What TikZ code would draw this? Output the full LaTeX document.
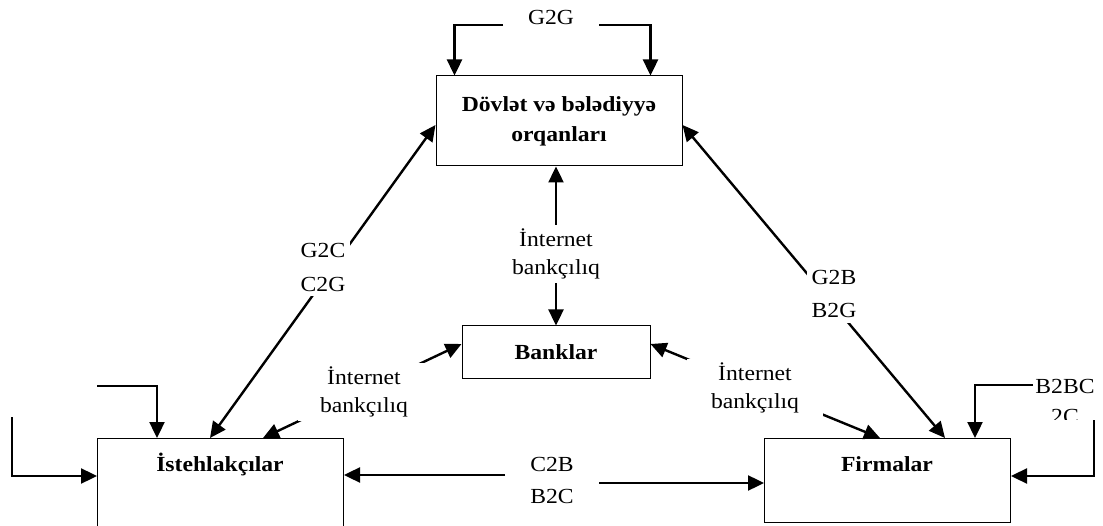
\documentclass[tikz,border=0pt]{standalone}
\usepackage{fontspec}
\setmainfont[FakeStretch=1.1]{Liberation Serif}
\usetikzlibrary{arrows.meta,calc}
\begin{document}
\begin{tikzpicture}[x=1pt,y=-1pt,
  every node/.style={font=\fontsize{21.5}{30}\selectfont},
  box/.style={draw, line width=1pt, inner sep=0pt},
  arr/.style={line width=2.4pt, -{Triangle[length=16pt,width=15pt]}},
  darr/.style={line width=2.4pt, {Triangle[length=16pt,width=15pt]}-{Triangle[length=16pt,width=15pt]}},
  lbl/.style={align=center, fill=white},
  btxt/.style={font=\fontsize{21.5}{30}\selectfont\bfseries, align=center}
]
\clip (0,0) rectangle (1103,526);
\fill[white] (0,0) rectangle (1103,526);

% boxes
\node[box, btxt, minimum width=246pt, minimum height=90pt] (top) at (559,121) {Dövlət və bələdiyyə\\orqanları};
\node[box, btxt, minimum width=188pt, minimum height=53pt] (bank) at (556,352.5) {Banklar};
\node[box, minimum width=246pt, minimum height=92pt, anchor=north west] (ist) at (97,438) {};
\node[btxt, anchor=base] (istt) at (220,471) {İstehlakçılar};
\node[box, minimum width=246pt, minimum height=84pt, anchor=north west] (firm) at (764,438) {};
\node[btxt, anchor=base] (firmt) at (887,471) {Firmalar};

% G2G loop
\coordinate (g2gL) at (503,25);
\coordinate (g2gR) at (599,25);
\draw[arr] (g2gL) -| ([xshift=19pt]top.north west);
\draw[arr] (g2gR) -| ([xshift=-32pt]top.north east);
\node[anchor=base] (g2g) at (551,25) {G2G};

% G2C / C2G
\draw[darr] ([xshift=113pt]ist.north west) -- ([yshift=-4pt]top.west);
\node[lbl, inner sep=5pt, font=\fontsize{21.5}{34}\selectfont] (g2c) at (323,267) {G2C\\C2G};

% G2B / B2G
\draw[darr] ([yshift=-4pt]top.east) -- ([xshift=181pt]firm.north west);
\node[lbl, inner sep=5pt, font=\fontsize{21.5}{33}\selectfont] (g2b) at (834,294) {G2B\\B2G};

% centre internet banking
\draw[darr] (bank.north) -- (bank.north |- top.south);
\node[lbl, inner sep=4pt, font=\fontsize{21.5}{28}\selectfont] (ib1) at (556,254) {İnternet\\bankçılıq};

% left internet banking
\draw[darr] ([xshift=166pt]ist.north west) -- ([yshift=8.5pt]bank.west);
\node[lbl, inner xsep=22pt, inner ysep=4pt, font=\fontsize{21.5}{28}\selectfont] (ib2) at (364,392) {İnternet\\bankçılıq};

% right internet banking
\draw[darr] ([yshift=8.5pt]bank.east) -- ([xshift=116pt]firm.north west);
\node[lbl, inner xsep=24pt, inner ysep=4pt, font=\fontsize{21.5}{28}\selectfont] (ib3) at (755,388) {İnternet\\bankçılıq};

% C2B / B2C
\coordinate (c2b) at (505,475);
\coordinate (b2c) at (599,483);
\draw[arr] (c2b) -- (c2b -| ist.east);
\draw[arr] (b2c) -- (b2c -| firm.west);
\node[align=center, font=\fontsize{21.5}{32}\selectfont] (cb) at (552,480) {C2B\\B2C};

% left loops
\coordinate (l1) at (97,386);
\coordinate (l2) at (12,417);
\draw[arr] (l1) -| ([xshift=60pt]ist.north west);
\draw[arr] (l2) |- ([yshift=-38pt]ist.north west);

% right loops
\coordinate (r1) at (1033,385);
\coordinate (r2) at (1094,420);
\draw[arr] (r1) -| ([xshift=-36pt]firm.north east);
\draw[arr] (r2) |- ([yshift=-38pt]firm.north east);
\begin{scope}
\clip (1020,370) rectangle (1103,419);
\node[align=center, font=\fontsize{21.5}{30}\selectfont] (b2bc) at (1065,401) {B2BC\\2C};
\end{scope}
\end{tikzpicture}
\end{document}
